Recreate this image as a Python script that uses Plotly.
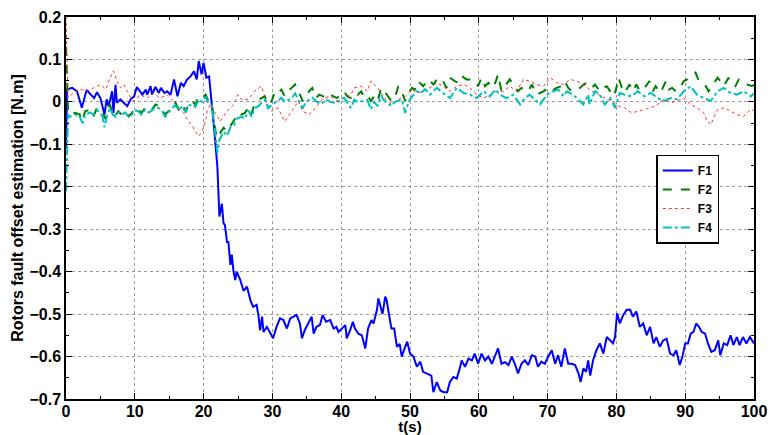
import plotly.graph_objects as go

# ---- data ----
t1 = [0, 0.15, 0.9, 1.6, 2.3, 3.0, 3.6, 4.1, 4.5, 5.0, 5.6, 5.9, 6.2, 6.7, 6.9, 7.2, 7.4, 7.9, 8.4, 8.9,
      9.4, 9.9, 10.3, 10.8, 11.1, 11.6, 11.8, 12.3, 12.5, 13.0, 13.5, 13.8, 14.3, 14.7, 15.2, 15.7, 16.2,
      16.7, 17.1, 17.6, 18.1, 18.6, 19.0, 19.3, 19.7, 20.0, 20.4, 20.8, 21.0, 21.5, 22.0, 22.2, 22.3,
      22.65, 22.9, 23.1, 23.4, 23.6, 23.9, 24.1, 24.35, 24.6, 24.8, 25.3, 25.8, 26.3, 26.8, 27.2, 27.7,
      28.0, 28.2, 28.5, 28.7, 29.2, 29.7, 30.1, 30.6, 31.1, 31.6, 32.1, 32.6, 33.1, 33.5, 34.0, 34.3,
      34.7, 35.2, 35.7, 36.0, 36.4, 36.9, 37.3, 37.8, 38.4, 38.9, 39.3, 39.6, 40.1, 40.6, 40.8, 41.3,
      41.7, 42.0, 42.5, 43.0, 43.5, 43.9, 44.4, 44.7, 45.2, 45.4, 45.6, 46.0, 46.4, 46.6, 47.0, 47.3,
      47.7, 48.1, 48.5, 48.8, 49.3, 49.6, 50.0, 50.5, 51.0, 51.5, 51.9, 52.4, 53.1, 53.4, 53.9, 54.4,
      54.9, 55.4, 55.8, 56.3, 56.8, 57.3, 57.5, 58.0, 58.5, 59.0, 59.4, 59.9, 60.4, 60.9, 61.4, 61.9,
      62.3, 62.8, 63.3, 63.8, 64.3, 64.8, 65.3, 65.7, 66.2, 66.7, 67.2, 67.7, 68.2, 68.6, 69.1, 69.6,
      70.1, 70.6, 71.1, 71.5, 72.0, 72.5, 73.0, 73.5, 74.0, 74.5, 74.8, 75.2, 75.6, 75.9, 76.2, 76.6,
      77.1, 77.6, 78.1, 78.6, 79.1, 79.5, 79.8, 80.1, 80.5, 81.0, 81.5, 82.0, 82.4, 82.9, 83.4, 83.9,
      84.4, 84.9, 85.4, 85.8, 86.3, 86.8, 87.3, 87.8, 88.3, 88.7, 89.2, 89.6, 90.0, 90.4, 90.8, 91.2,
      91.6, 92.0, 92.4, 92.9, 93.3, 93.8, 94.3, 94.8, 95.1, 95.6, 96.1, 96.6, 97.0, 97.5, 97.9, 98.4,
      98.9, 99.4, 100]
f1 = [-0.11, 0.029, 0.033, 0.025, -0.014, 0.028, 0.017, 0.009, 0.023, 0.009, -0.03, 0.006, -0.01, 0.025,
      -0.026, 0.04, -0.002, 0.006, -0.002, -0.01, 0.006, 0.013, 0.035, 0.025, 0.017, 0.029, 0.017, 0.037,
      0.017, 0.035, 0.021, 0.033, 0.021, 0.025, 0.017, 0.053, 0.013, 0.045, 0.037, 0.053, 0.06, 0.072,
      0.053, 0.096, 0.065, 0.092, 0.057, 0.06, 0.029, -0.057, -0.152, -0.23, -0.27, -0.24, -0.286, -0.29,
      -0.33, -0.33, -0.384, -0.36, -0.4, -0.42, -0.40, -0.418, -0.445, -0.435, -0.467, -0.483, -0.478,
      -0.506, -0.538, -0.506, -0.542, -0.53, -0.546, -0.557, -0.53, -0.51, -0.514, -0.534, -0.51, -0.506,
      -0.502, -0.522, -0.557, -0.538, -0.522, -0.506, -0.546, -0.53, -0.526, -0.502, -0.518, -0.514,
      -0.534, -0.53, -0.542, -0.534, -0.526, -0.557, -0.538, -0.518, -0.534, -0.546, -0.55, -0.581,
      -0.534, -0.514, -0.522, -0.49, -0.463, -0.475, -0.5, -0.459, -0.467, -0.506, -0.534, -0.534,
      -0.577, -0.57, -0.6, -0.577, -0.565, -0.593, -0.6, -0.624, -0.612, -0.636, -0.64, -0.645, -0.684,
      -0.66, -0.68, -0.684, -0.684, -0.66, -0.648, -0.652, -0.624, -0.609, -0.624, -0.605, -0.609,
      -0.593, -0.617, -0.593, -0.609, -0.6, -0.617, -0.6, -0.581, -0.617, -0.613, -0.62, -0.6, -0.62,
      -0.64, -0.617, -0.609, -0.62, -0.597, -0.6, -0.624, -0.612, -0.617, -0.6, -0.585, -0.617, -0.597,
      -0.624, -0.581, -0.617, -0.617, -0.62, -0.64, -0.66, -0.628, -0.636, -0.609, -0.645, -0.609,
      -0.585, -0.569, -0.593, -0.554, -0.562, -0.569, -0.554, -0.498, -0.522, -0.502, -0.49, -0.49,
      -0.506, -0.494, -0.53, -0.522, -0.55, -0.53, -0.569, -0.554, -0.577, -0.562, -0.558, -0.593,
      -0.597, -0.585, -0.62, -0.6, -0.569, -0.569, -0.546, -0.542, -0.522, -0.53, -0.542, -0.546,
      -0.569, -0.589, -0.585, -0.562, -0.597, -0.569, -0.573, -0.55, -0.573, -0.554, -0.573, -0.554,
      -0.569, -0.554, -0.569]

t2 = [0, 0.3, 0.6, 1.3, 2.0, 2.3, 2.8, 3.5, 4.0, 4.5, 5.0, 5.4, 5.7, 6.2, 6.4, 6.7, 7.1, 7.6, 8.1, 8.6,
      9.1, 9.6, 10.0, 10.5, 11.0, 11.5, 12.0, 12.5, 13.0, 13.5, 13.9, 14.4, 14.9, 15.4, 15.9, 16.4,
      16.9, 17.4, 17.8, 18.3, 18.8, 19.3, 19.8, 20.3, 20.7, 21.2, 21.7, 21.9, 22.4, 22.9, 23.4, 23.9,
      24.4, 24.8, 25.0, 25.5, 26.0, 26.5, 26.9, 27.4, 27.9, 28.4, 28.9, 29.4, 29.9, 30.4, 30.8, 31.3,
      31.8, 32.3, 32.8, 33.3, 33.8, 34.4, 34.9, 35.3, 35.8, 36.3, 36.8, 37.4, 37.9, 38.4, 38.9, 39.4,
      39.9, 40.4, 40.9, 41.4, 41.9, 42.4, 42.9, 43.3, 43.8, 44.3, 44.8, 45.3, 45.8, 46.3, 46.8, 47.3,
      47.8, 48.3, 48.8, 49.3, 49.8, 50.3, 50.7, 51.2, 51.9, 52.7, 53.4, 53.9, 54.4, 54.8, 55.3, 55.8,
      56.5, 57.0, 57.5, 58.2, 58.9, 59.4, 59.9, 60.4, 60.9, 61.4, 61.9, 62.4, 62.8, 63.3, 63.8, 64.5,
      65.3, 65.7, 66.2, 66.7, 67.2, 67.7, 68.4, 68.9, 69.4, 70.1, 70.6, 71.3, 72.0, 72.5, 73.0, 73.5,
      74.0, 74.7, 75.2, 75.7, 76.4, 76.9, 77.6, 78.1, 78.6, 79.1, 79.6, 80.0, 80.3, 80.8, 81.2, 81.9,
      82.4, 82.9, 83.4, 84.1, 84.8, 85.3, 85.7, 86.4, 87.2, 87.6, 88.1, 88.6, 89.1, 89.8, 90.3, 90.8,
      91.5, 92.0, 92.5, 93.0, 93.4, 93.9, 94.7, 95.1, 95.6, 96.3, 96.8, 97.3, 97.8, 98.5, 99.0, 99.7,
      100]
f2 = [0.13, -0.02, -0.03, -0.026, -0.03, -0.045, -0.022, -0.018, -0.034, -0.014, -0.018, -0.026,
      -0.04, -0.014, -0.006, -0.026, -0.034, -0.022, -0.03, -0.022, -0.034, -0.026, -0.014, -0.018,
      -0.026, -0.014, -0.022, -0.018, -0.006, -0.01, -0.014, -0.03, -0.022, -0.014, -0.002, -0.018,
      -0.006, -0.022, -0.006, 0.002, -0.006, 0.013, 0.009, 0.017, 0.002, -0.006, -0.065, -0.085,
      -0.073, -0.061, -0.069, -0.057, -0.046, -0.034, -0.026, -0.03, -0.026, -0.014, -0.03, -0.006,
      0.002, 0.009, 0.013, -0.006, 0.002, 0.025, 0.021, 0.029, 0.013, 0.025, 0.033, 0.041, 0.025,
      0.002, 0.017, 0.025, 0.033, 0.009, 0.017, 0.013, 0.021, 0.017, 0.013, 0.009, 0.017, 0.025,
      0.013, 0.009, 0.021, 0.017, 0.025, 0.013, 0.017, 0.002, 0.013, 0.002, 0.033, 0.025, 0.013,
      0.002, 0.009, 0.037, 0.025, 0.002, 0.021, 0.033, 0.029, 0.049, 0.037, 0.053, 0.041, 0.053,
      0.045, 0.049, 0.033, 0.057, 0.049, 0.045, 0.061, 0.053, 0.053, 0.049, 0.037, 0.057, 0.037,
      0.045, 0.033, 0.045, 0.065, 0.025, 0.037, 0.053, 0.033, 0.025, 0.033, 0.029, 0.025, 0.041,
      0.017, 0.021, 0.025, 0.033, 0.025, 0.033, 0.037, 0.049, 0.033, 0.025, 0.029, 0.033, 0.041,
      0.045, 0.033, 0.041, 0.025, 0.033, 0.037, 0.025, 0.013, 0.033, 0.057, 0.033, 0.021, 0.041,
      0.025, 0.041, 0.025, 0.033, 0.049, 0.025, 0.037, 0.021, 0.049, 0.029, 0.033, 0.025, 0.029,
      0.049, 0.053, 0.061, 0.069, 0.049, 0.045, 0.037, 0.025, 0.037, 0.057, 0.049, 0.037, 0.057,
      0.041, 0.037, 0.053, 0.049, 0.041, 0.037, 0.04]

t3 = [0, 0.3, 1.0, 2.0, 3.0, 4.0, 5.0, 5.8, 6.4, 6.9, 7.4, 7.9, 8.4, 8.9, 9.4, 9.9, 10.8, 11.8, 12.7,
      13.7, 14.7, 15.6, 16.1, 17.1, 17.8, 18.3, 18.8, 19.3, 19.8, 20.3, 20.5, 21.0, 21.5, 22.4, 23.4,
      23.9, 24.4, 24.8, 25.0, 25.5, 26.5, 27.4, 28.4, 29.1, 29.9, 30.8, 31.3, 31.8, 32.8, 33.8, 34.4,
      35.3, 36.3, 37.4, 38.4, 39.4, 40.4, 41.4, 41.9, 42.9, 43.8, 44.3, 45.3, 46.3, 47.3, 48.3, 49.3,
      50.3, 51.0, 51.9, 52.9, 53.9, 54.8, 55.8, 56.8, 57.8, 58.7, 59.7, 60.7, 61.6, 62.6, 63.6, 64.5,
      65.5, 66.5, 67.4, 68.4, 69.4, 70.4, 71.3, 72.3, 73.3, 74.2, 75.2, 76.4, 77.4, 78.3, 79.3, 80.3,
      81.2, 82.2, 83.1, 84.1, 85.0, 86.0, 86.9, 87.9, 88.8, 89.8, 90.8, 91.7, 92.7, 93.2, 93.7, 94.7,
      95.6, 96.6, 97.5, 98.5, 99.5, 100]
f3 = [0.2, 0.01, 0.02, 0.03, 0.025, 0.033, 0.041, 0.03, 0.057, 0.073, 0.049, 0.033, 0.041, 0.025,
      0.01, 0.002, 0.017, 0.009, 0.021, 0.009, 0.017, 0.002, -0.014, -0.026, -0.046, -0.054, -0.07,
      -0.081, -0.069, -0.046, -0.022, -0.006, -0.022, -0.046, -0.022, -0.014, -0.006, 0.009, 0.017,
      0.005, 0.006, 0.025, 0.037, 0.002, -0.022, -0.014, -0.03, -0.046, -0.022, 0.002, -0.022, -0.03,
      -0.014, 0.009, 0.013, 0.002, 0.009, 0.017, 0.033, 0.037, 0.025, 0.049, 0.033, 0.009, -0.006,
      0.006, 0.013, 0.029, 0.021, 0.025, 0.033, 0.045, 0.037, 0.025, 0.037, 0.041, 0.033, 0.017,
      0.009, 0.017, 0.025, 0.025, 0.037, 0.025, 0.053, 0.049, 0.041, 0.037, 0.057, 0.045, 0.041,
      0.053, 0.049, 0.041, 0.025, 0.017, 0.009, 0.002, -0.01, -0.014, -0.026, -0.022, -0.018, -0.014,
      -0.006, 0.006, -0.002, 0.002, 0.009, -0.006, -0.014, -0.026, -0.046, -0.054, -0.018, -0.014,
      -0.022, -0.03, -0.034, -0.018, -0.02]

t4 = [0, 0.3, 0.6, 1.3, 2.0, 2.4, 2.8, 3.5, 4.0, 4.5, 5.0, 5.3, 5.6, 6.0, 6.4, 6.8, 7.2, 7.6, 8.1, 8.6,
      9.1, 9.6, 10.0, 10.5, 11.0, 11.5, 12.0, 12.5, 13.0, 13.5, 13.9, 14.4, 14.9, 15.4, 15.9, 16.4,
      16.9, 17.4, 17.8, 18.3, 18.8, 19.3, 19.8, 20.3, 20.7, 21.2, 21.6, 22.0, 22.3, 22.9, 23.4, 23.9,
      24.4, 24.8, 25.5, 26.0, 26.5, 27.0, 27.4, 28.0, 28.5, 29.0, 29.4, 30.0, 30.8, 31.3, 31.8, 32.8,
      33.3, 34.4, 34.9, 35.3, 35.8, 36.3, 37.0, 37.9, 38.4, 39.4, 39.9, 40.4, 41.4, 41.9, 42.4, 43.3,
      43.8, 44.3, 44.8, 45.3, 45.8, 46.3, 47.3, 47.8, 48.3, 48.8, 49.3, 49.8, 50.3, 51.0, 51.5, 52.2,
      52.9, 53.9, 54.8, 55.8, 56.8, 57.8, 58.7, 59.7, 60.7, 61.6, 62.4, 63.1, 64.0, 65.0, 66.0, 66.7,
      67.4, 68.4, 68.9, 69.9, 70.8, 71.6, 72.3, 72.8, 73.7, 74.7, 75.2, 75.9, 76.1, 76.9, 77.6, 78.3,
      79.1, 79.8, 80.5, 81.2, 82.2, 83.1, 84.1, 85.0, 86.0, 86.9, 87.9, 88.8, 89.8, 90.8, 91.7, 92.7,
      93.7, 94.7, 95.6, 96.6, 97.5, 98.5, 99.5, 100]
f4 = [-0.21, -0.03, -0.035, -0.03, -0.035, -0.05, -0.03, -0.025, -0.03, -0.02, -0.025, -0.035, -0.06,
      -0.03, -0.015, -0.03, -0.035, -0.025, -0.03, -0.025, -0.035, -0.03, -0.02, -0.022, -0.03, -0.018,
      -0.025, -0.02, -0.012, -0.015, -0.02, -0.035, -0.025, -0.015, -0.008, -0.02, -0.01, -0.025, -0.01,
      -0.005, -0.012, 0.005, 0.0, 0.012, -0.003, -0.01, -0.06, -0.12, -0.09, -0.07, -0.08, -0.06, -0.055,
      -0.04, -0.035, -0.04, -0.02, -0.035, -0.015, -0.01, 0.0, 0.005, -0.015, -0.005, 0.002, 0.01, 0.0,
      0.009, 0.02, -0.015, 0.0, 0.005, 0.01, 0.002, -0.005, 0.005, 0.0, -0.003, 0.005, 0.01, -0.014,
      0.005, 0.0, 0.002, 0.005, -0.018, 0.0, -0.01, 0.015, 0.002, -0.01, 0.0, 0.002, 0.005, -0.026, 0.0,
      0.013, 0.025, 0.02, 0.03, 0.017, 0.033, 0.021, 0.009, 0.033, 0.021, 0.017, 0.009, 0.025, 0.013,
      0.029, 0.017, 0.009, 0.017, -0.006, 0.009, 0.017, 0.002, -0.006, 0.017, 0.025, 0.029, 0.013, 0.025,
      0.017, 0.002, -0.006, 0.017, -0.006, 0.025, 0.017, -0.006, 0.009, -0.014, 0.021, 0.017, 0.013,
      0.025, 0.013, 0.021, 0.009, 0.002, 0.009, 0.006, 0.025, 0.037, 0.017, 0.009, 0.002, 0.025, 0.033,
      0.021, 0.017, 0.025, 0.013, 0.02]

names = ["F1", "F2", "F3", "F4"]
x_ticks = [0, 10, 20, 30, 40, 50, 60, 70, 80, 90, 100]
y_ticks = [-0.7, -0.6, -0.5, -0.4, -0.3, -0.2, -0.1, 0, 0.1, 0.2]

FONT = "Liberation Sans, Arial, sans-serif"

fig = go.Figure()
series = [(t1, f1, dict(color="#0000FF", width=2)),
          (t2, f2, dict(color="#007F00", width=2, dash="dash")),
          (t3, f3, dict(color="#FF3030", width=1, dash="dot")),
          (t4, f4, dict(color="#00BFBF", width=2, dash="dashdot"))]
for name, (tx, fy, ln) in zip(names, series):
    n = min(len(tx), len(fy))
    fig.add_trace(go.Scatter(x=tx[:n], y=fy[:n], name=name, mode="lines", line=ln))

axis_common = dict(
    showline=True, linecolor="black", linewidth=1.5, mirror="allticks",
    ticks="inside", ticklen=6, tickcolor="black", tickwidth=1,
    showgrid=True, gridcolor="#9a9a9a", griddash="dot", gridwidth=1,
    zeroline=False, automargin=False,
    tickfont=dict(family=FONT, size=16, color="black", weight="bold"),
)

fig.update_xaxes(range=[x_ticks[0], x_ticks[-1]], tickmode="linear",
                 tick0=x_ticks[0], dtick=x_ticks[1] - x_ticks[0], ticklabelstandoff=-3,
                 minor=dict(ticks="inside", ticklen=3, tickcolor="black", dtick=5, showgrid=False),
                 title=dict(text="t(s)", font=dict(family=FONT, size=15, color="black", weight="bold"),
                            standoff=3),
                 **axis_common)
fig.update_yaxes(range=[y_ticks[0], y_ticks[-1]], tickmode="linear",
                 tick0=0, dtick=0.1,
                 minor=dict(ticks="inside", ticklen=3, tickcolor="black", dtick=0.05, showgrid=False),
                 title=dict(text="Rotors fault offset estimation [N.m]",
                            font=dict(family=FONT, size=16, color="black", weight="bold"), standoff=2),
                 **axis_common)

fig.update_layout(
    width=774, height=435,
    margin=dict(l=66, r=20, t=17, b=36),
    plot_bgcolor="white", paper_bgcolor="white",
    font=dict(family=FONT, size=14, color="black"),
    legend=dict(x=0.858, y=0.64, xanchor="left", yanchor="top",
                bgcolor="white", bordercolor="black", borderwidth=1.5,
                font=dict(family=FONT, size=12, color="black", weight="bold"),
                tracegroupgap=0, itemwidth=30),
    showlegend=True,
)

fig.write_html("out.html", config={"displayModeBar": False},
               post_script="document.body.style.margin='0';document.body.style.overflow='hidden';")
